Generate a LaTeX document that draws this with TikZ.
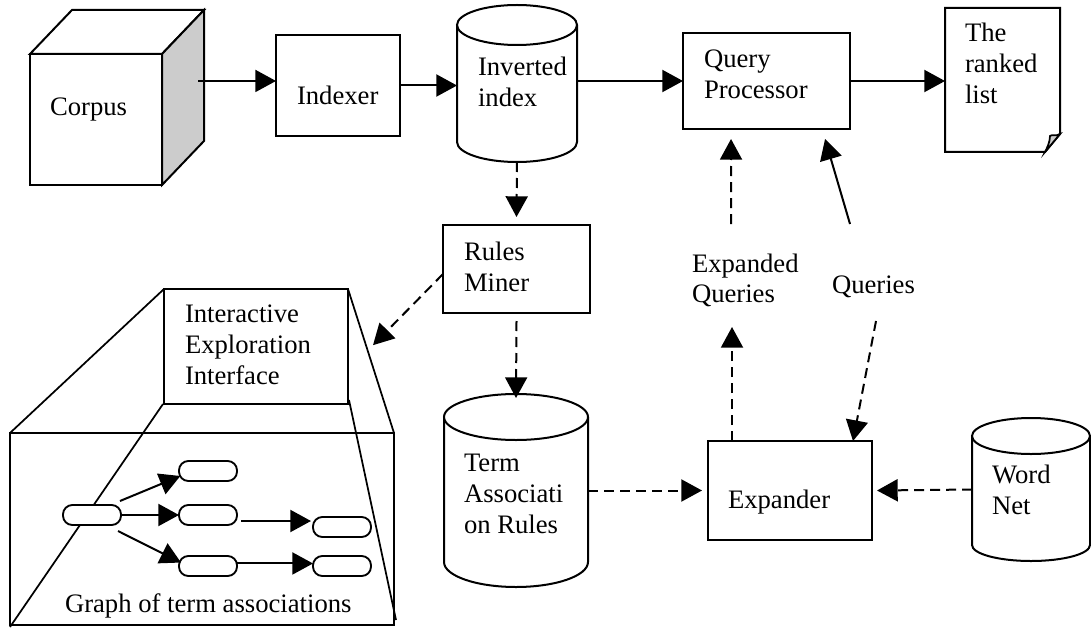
\documentclass[tikz,border=0pt]{standalone}
\usepackage{fontspec}
\setmainfont{Liberation Serif}
\usetikzlibrary{arrows.meta,calc}
\newdimen\px \px=0.75pt
% text-bearing node of exact size: first baseline #8 below the top, text #7 from the left
\newcommand\bnode[9][]{%
  \node[plain,#1,name=#2,anchor=north west] at (#3,#4)
  {\parbox[c][\dimexpr\numexpr#6-#4\relax\px\relax][t]{\dimexpr\numexpr#5-#3\relax\px\relax}{\raggedright\leftskip=#7\px\rule{0pt}{#8\px}#9}};}
\newcommand\cyl[6]{%
  \draw[shape line,fill=white] (#1,#4) -- (#1,#5) arc[start angle=180,end angle=0,x radius={(#2-#1)/2},y radius={#6-#5}] -- (#2,#4);
  \draw[shape line,fill=white] ({(#1+#2)/2},#4) ellipse[x radius={(#2-#1)/2},y radius={#4-#3}];}
\tikzset{
  x=0.75pt,y=-0.75pt,
  every node/.style={font=\fontsize{20pt}{23.25pt}\selectfont,text=black},
  plain/.style={inner sep=0pt,outer sep=0pt},
  boxed/.style={draw=black,line width=1.5pt,fill=white},
  shape line/.style={draw=black,line width=1.5pt},
  thin line/.style={draw=black,line width=1.3pt},
  pill/.style={draw=black,line width=1.4pt,fill=white,rounded corners=7pt,minimum width=43.5pt,minimum height=15pt,inner sep=0pt,outer sep=0pt,anchor=north west},
  arr/.style={draw=black,line width=1.5pt,-{Triangle[length=15.5pt,width=16.5pt]}},
  darr/.style={arr,dash pattern=on 7.5pt off 4.5pt},
  face/.style={shape line,line join=miter},
  lbl/.style={plain,anchor=base west,align=left}
}
\begin{document}
\begin{tikzpicture}
\useasboundingbox (0,0) rectangle (1091,631);
\fill[white] (0,0) rectangle (1091,631);

% corpus cube
\bnode[boxed]{corpus}{30}{54}{162}{185}{20}{62}{Corpus}
\draw[face,fill=white] (corpus.north west) -- (72,10) -- (204,10) -- (corpus.north east) -- cycle;
\draw[face,fill=black!20] (corpus.north east) -- (204,10) -- (204,141) -- (corpus.south east) -- cycle;

% boxes
\bnode[boxed]{indexer}{276}{35}{400}{136}{21}{70}{Indexer}
\bnode[boxed]{query}{683}{33}{850}{129}{21}{35}{Query\\Processor}
\bnode[boxed]{rules}{443}{225}{590}{313}{21}{35}{Rules\\Miner}
\bnode[boxed]{expander}{708}{441}{872}{540}{20}{67}{Expander}

% cylinders
\cyl{457}{577}{5}{25}{142}{162}
\bnode{inv}{457}{5}{577}{162}{21}{70.5}{Inverted\\index}
\cyl{444}{588}{394}{417}{562}{587}
\bnode{term}{444}{394}{588}{587}{20}{77}{Term\\Associati\\on Rules}
\cyl{972}{1090}{418}{436}{545}{561}
\bnode{word}{972}{418}{1090}{561}{20}{65}{Word\\Net}

% ranked list document
\draw[face,fill=white] (945,8) -- (1060,8) -- (1060,134) -- (1045,152) -- (945,152) -- cycle;
\draw[thin line,fill=black!20] (1060,134) .. controls (1055,137) and (1052,134) .. (1050,136) .. controls (1050,142) and (1047,148) .. (1045,152) -- cycle;
\bnode{doc}{945}{8}{1060}{152}{20}{34}{The\\ranked\\list}

% interface and graph panel
\node[plain,boxed,anchor=north west,minimum width=288pt,minimum height=144pt] (graph) at (10,433) {};
\draw[thin line] (164,289) -- (graph.north west);
\draw[thin line] (348,289) -- (graph.north east);
\draw[thin line] (163,404) -- ([yshift=-1.5pt]graph.south west);
\draw[thin line] (349,400) -- ([xshift=1.5pt,yshift=3.75pt]graph.south east);
\bnode[boxed]{inter}{164}{289}{348}{404}{21}{33}{Interactive\\Exploration\\Interface}
\node[lbl] (gl) at (65,612) {Graph of term associations};

% pills
\node[pill] (p1) at (63,505) {};
\node[pill] (p2) at (179,461) {};
\node[pill] (p3) at (179,505) {};
\node[pill] (p4) at (179,556) {};
\node[pill] (p5) at (313,517) {};
\node[pill] (p6) at (313,556) {};

% free labels
\node[lbl] (eq) at (692,272) {Expanded};
\node[lbl] (eq2) at (692,302) {Queries};
\node[lbl] (ql) at (832,293) {Queries};

% free ends
\coordinate (c1) at (731,224);
\coordinate (c2) at (850,224);
\coordinate (c3) at (732,327);
\coordinate (c4) at (876,321);

% solid connectors
\draw[arr] ([xshift=27pt,yshift=28.9pt]corpus.east) -- ([yshift=3.4pt]indexer.west);
\draw[arr] (indexer.east) -- (indexer.east -| inv.west);
\draw[arr] (query.west -| inv.east) -- (query.west);
\draw[arr] (query.east) -- (query.east -| doc.west);
\draw[arr] (c2) -- ([xshift=43.9pt,yshift=-7.5pt]query.south);

% dashed connectors
\draw[darr] (inv.south) -- ([yshift=6pt]rules.north);
\draw[darr] ([yshift=-3.75pt]rules.west) -- ([xshift=18.75pt,yshift=1pt]inter.east);
\draw[darr] ([yshift=-6pt]rules.south) -- ([yshift=-3pt]term.north);
\draw[darr] (term.east) -- ([xshift=-4.5pt]expander.west);
\draw[darr] (word.west) -- ([xshift=3.75pt]expander.east);
\draw[darr] (c1) -- ([xshift=-26.6pt,yshift=-7.5pt]query.south);
\draw[darr] ([xshift=-43.5pt]expander.north) -- (c3);
\draw[darr] (c4) -- ([xshift=47.25pt]expander.north);

% graph connectors
\draw[arr] ([xshift=-.75pt,yshift=10.5pt]p1.east) -- ([xshift=1pt,yshift=-3.75pt]p2.west);
\draw[arr] (p1.east) -- (p3.west);
\draw[arr] ([xshift=-2.25pt,yshift=-12pt]p1.east) -- ([xshift=1.5pt,yshift=2.6pt]p4.west);
\draw[arr] ([xshift=3pt,yshift=-4.5pt]p3.east) -- ([xshift=-1.5pt,yshift=4.5pt]p5.west);
\draw[arr] ([yshift=1.9pt]p4.east) -- ([yshift=1.9pt]p6.west);
\end{tikzpicture}
\end{document}
